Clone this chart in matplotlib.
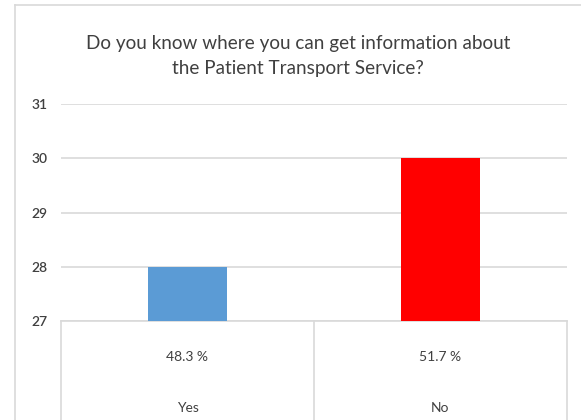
import matplotlib
matplotlib.use("Agg")
import matplotlib.pyplot as plt
import matplotlib.transforms as mtransforms

# Datos de la encuesta
categorias = ["Yes", "No"]
respuestas = [28, 30]
porcentajes = ["48.3 %", "51.7 %"]
colores = ["#5B9BD5", "#FF0000"]
titulo = "Do you know where you can get information about\nthe Patient Transport Service?"

plt.rcParams["font.family"] = ["Lato", "DejaVu Sans"]

fig = plt.figure(figsize=(5.81, 4.2), dpi=100)
ax = fig.add_axes([61 / 581, 1 - 321 / 420, (567 - 61) / 581, (321 - 104) / 420])

x = range(len(categorias))
ax.bar(x, [r - 27 for r in respuestas], bottom=27, width=0.315, color=colores, zorder=3)

ax.set_xlim(-0.5, len(categorias) - 0.5)
ax.set_ylim(27, 31)
ax.set_yticks([27, 28, 29, 30, 31])
ax.tick_params(axis="y", length=0, pad=10, labelsize=10, labelcolor="#404040")
for lbl in ax.get_yticklabels():
    lbl.set_fontweight("semibold")
ax.set_xticks([])
ax.grid(axis="y", color="#D9D9D9", linewidth=1.2, zorder=0)
for s in ax.spines.values():
    s.set_visible(False)

# Tabla debajo del eje con porcentajes y categorías
trans = mtransforms.blended_transform_factory(ax.transData, ax.transAxes)
gris = "#D9D9D9"
ax.plot([-0.5, len(categorias) - 0.5], [0, 0], color=gris, lw=1.2, transform=trans, clip_on=False)
for xv in [i - 0.5 for i in range(len(categorias) + 1)]:
    ax.plot([xv, xv], [0, -0.6], color=gris, lw=1.2, transform=trans, clip_on=False)
for i, (c, p) in enumerate(zip(categorias, porcentajes)):
    ax.text(i, -36 / 217, p, transform=trans, ha="center", va="center", fontsize=10, color="#404040")
    ax.text(i, -87 / 217, c, transform=trans, ha="center", va="center", fontsize=10, color="#404040")

fig.text(298 / 581, 1 - 56 / 420, titulo, ha="center", va="center", fontsize=13.6,
         color="#404040", linespacing=1.6)

# Marco del gráfico
fig.add_artist(plt.Line2D([15 / 581, 15 / 581], [0, 1 - 5 / 420], color=gris, lw=1.2))
fig.add_artist(plt.Line2D([15 / 581, 1], [1 - 5 / 420, 1 - 5 / 420], color=gris, lw=1.2))

fig.savefig("out.png", dpi=100)
